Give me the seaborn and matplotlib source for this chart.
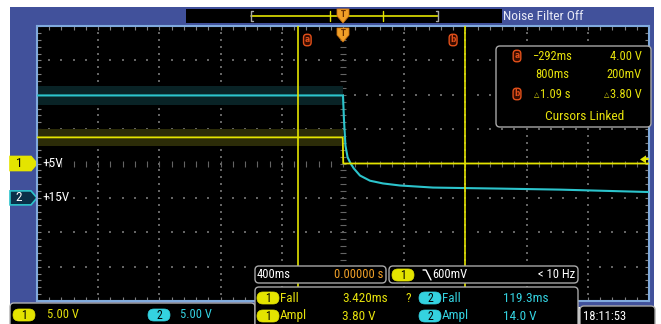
import numpy as np
import matplotlib
matplotlib.use("Agg")
import matplotlib.pyplot as plt
from matplotlib.patches import Rectangle, FancyBboxPatch, Polygon
from matplotlib import font_manager
import seaborn as sns

# ---- acquisition settings ----
time_per_div = 0.4            # s/div
n_hdiv, n_vdiv = 10, 8
ch1_scale, ch2_scale = 5.0, 5.0   # V/div
ch1_pos, ch2_pos = 0.0, -1.0      # ground reference position, div
trigger_level = 0.6               # V, falling edge on ch1

# ---- channel 1: +5V rail ----
ch1_t = [-2.0, -0.0017, 0.0017, 2.0]
ch1_v = [3.80, 3.80, 0.0, 0.0]
ch1_band = 1.25                   # half-width of the pre-fall noise envelope, V

# ---- channel 2: +15V rail ----
ch2_t = [-2.0, 0.0, 0.006, 0.016, 0.03, 0.05, 0.07, 0.111, 0.176, 0.261,
         0.373, 0.588, 0.81, 1.026, 1.418, 2.0]
ch2_v = [14.9, 14.9, 11.5, 7.6, 5.9, 5.0, 4.3, 3.25, 2.5, 2.1,
         1.8, 1.5, 1.42, 1.35, 1.2, 0.85]
ch2_band = 1.35

# ---- cursors ----
cursor_a = -0.292
cursor_span = 1.09

# ---- readouts ----
cursor_rows = [("−292ms", "4.00 V"), ("800ms", "200mV"), ("1.09 s", "3.80 V")]
meas_rows = [("Fall", "3.420ms", "Fall", "119.3ms"),
             ("Ampl", "3.80 V", "Ampl", "14.0 V")]
horiz_label, horiz_pos = "400ms", "0.00000 s"
trig_label, trig_freq = "600mV", "< 10 Hz"
ch_scale_labels = ["5.00 V", "5.00 V"]
ch_ref_labels = ["+5V", "+15V"]
timestamp = "18:11:53"

# ---- colours ----
FRAME = "#41519b"
BORDER = "#80aadd"
YEL = "#e4e400"
CYAN = "#2cc4cc"
TXT_Y = "#e6e20c"
TXT_C = "#34d2e0"
ORANGE = "#f0a028"
RED = "#e2501a"
GRID = "#646464"

sns.set_theme(style="dark")
avail = {f.name for f in font_manager.fontManager.ttflist}
main_font = "DejaVu Sans"
for cand in ("Liberation Sans Narrow", "Roboto Condensed", "Open Sans Condensed"):
    if cand in avail:
        main_font = cand
        break
plt.rcParams["font.family"] = [main_font, "DejaVu Sans"]
plt.rcParams["font.stretch"] = "condensed"

W, H = 661, 324
fig = plt.figure(figsize=(W / 100, H / 100), dpi=100, facecolor="white")

# background layer in pixel coordinates
bg = fig.add_axes([0, 0, 1, 1], zorder=0)
bg.set_xlim(0, W)
bg.set_ylim(H, 0)
bg.axis("off")

# scope graticule
ax = fig.add_axes([37 / W, 1 - 301 / H, 612 / W, 275 / H], zorder=1)
ax.set_facecolor("black")
half_t = n_hdiv / 2 * time_per_div
ax.set_xlim(-half_t, half_t)
ax.set_ylim(-n_vdiv / 2, n_vdiv / 2)

# overlay layer in pixel coordinates
ov = fig.add_axes([0, 0, 1, 1], zorder=3)
ov.set_xlim(0, W)
ov.set_ylim(H, 0)
ov.axis("off")
ov.patch.set_alpha(0)


def to_px(x, y):
    X, Y = ax.transData.transform((x, y))
    return X, H - Y


# ---------- frame ----------
bg.add_patch(Rectangle((10, 7), 644, 300, color=FRAME, lw=0))
bg.add_patch(Rectangle((186, 9), 316, 14, color="black", lw=0))
bg.plot([251, 438], [16, 16], color=YEL, lw=1.2)
bg.plot([253, 251, 251, 253], [11, 11, 21, 21], color="#a8a8a8", lw=1)
bg.plot([436, 438, 438, 436], [11, 11, 21, 21], color="#a8a8a8", lw=1)
bg.plot([330, 330], [11, 21], color=YEL, lw=1)
bg.plot([383, 383], [11, 21], color=YEL, lw=1)
bg.text(503, 16, "Noise Filter Off", color="#e8eaf6", fontsize=9.7, va="center", ha="left")

# ---------- grid ----------
minor_y = np.arange(-n_vdiv * 5 // 2, n_vdiv * 5 // 2 + 1) / 5
minor_x = np.arange(-n_hdiv * 5 // 2, n_hdiv * 5 // 2 + 1) * time_per_div / 5
for k in range(1, n_hdiv):
    xm = -half_t + k * time_per_div
    if abs(xm) < 1e-9:
        continue
    ax.scatter(np.full_like(minor_y, xm), minor_y, s=1.0, marker="s", color=GRID, lw=0, zorder=1)
for k in range(1, n_vdiv):
    ym = -n_vdiv / 2 + k
    if ym == 0:
        continue
    ax.scatter(minor_x, np.full_like(minor_x, ym), s=1.0, marker="s", color=GRID, lw=0, zorder=1)
ax.plot(minor_x, np.zeros_like(minor_x), ls="none", marker="|", ms=4, mew=0.8, color=GRID, zorder=1)
ax.plot(np.zeros_like(minor_y), minor_y, ls="none", marker="_", ms=4, mew=0.8, color=GRID, zorder=1)

ax.set_xticks(np.arange(-half_t, half_t + 1e-9, time_per_div))
ax.set_xticks(minor_x, minor=True)
ax.set_yticks(np.arange(-n_vdiv / 2, n_vdiv / 2 + 1))
ax.set_yticks(minor_y, minor=True)
ax.tick_params(which="both", direction="in", top=True, right=True, bottom=True, left=True,
               labelbottom=False, labelleft=False, length=3, width=0.8, color="#808080")
ax.grid(False)
for s in ax.spines.values():
    s.set_color(BORDER)
    s.set_linewidth(1.5)

# ---------- waveforms ----------
t1 = np.array(ch1_t)
y1 = np.array(ch1_v) / ch1_scale + ch1_pos
t2 = np.array(ch2_t)
y2 = np.array(ch2_v) / ch2_scale + ch2_pos

ax.fill_between(t1[:2], y1[:2] - ch1_band / ch1_scale, y1[:2] + ch1_band / ch1_scale,
                color="#2c2c08", lw=0, zorder=2)
ax.fill_between(t2[:2], y2[:2] - ch2_band / ch2_scale, y2[:2] + ch2_band / ch2_scale,
                color="#092326", lw=0, zorder=2)

sns.lineplot(x=t2, y=y2, ax=ax, color=CYAN, lw=1.5, estimator=None, sort=False, zorder=3)
sns.lineplot(x=t1, y=y1, ax=ax, color=YEL, lw=1.3, estimator=None, sort=False, zorder=4)
ax.set_xlabel("")
ax.set_ylabel("")

# ---------- cursors ----------
cursor_b = cursor_a + cursor_span
ax.axvline(cursor_a, color=YEL, lw=1.2, zorder=5)
ax.axvline(cursor_b, color=YEL, lw=1.2, zorder=5)


def cursor_icon(x, y, letter, size=6):
    ov.text(x, y, letter, color=RED, fontsize=size, ha="center", va="center",
            fontweight="bold", family="DejaVu Sans",
            bbox=dict(boxstyle="round,pad=0.15,rounding_size=0.4", fc="#3a0c00", ec=RED, lw=1))


ax_top = to_px(0, n_vdiv / 2)[1]
xa, _ = to_px(cursor_a, 0)
xb, _ = to_px(cursor_b, 0)
cursor_icon(xa + 9, ax_top + 14, "a")
cursor_icon(xb - 12, ax_top + 14, "b")

# ---------- trigger markers ----------
xt, _ = to_px(0, 0)


def trig_marker(y0):
    pts = [(xt - 6, y0), (xt + 6, y0), (xt + 6, y0 + 7), (xt, y0 + 14), (xt - 6, y0 + 7)]
    ov.add_patch(Polygon(pts, closed=True, fc=ORANGE, ec="#c87010", lw=0.6))
    ov.text(xt, y0 + 5.5, "T", color="#6a3000", fontsize=5.5, ha="center", va="center",
            fontweight="bold", family="DejaVu Sans")


trig_marker(9)
trig_marker(ax_top + 2)

# trigger level arrow on the right edge
xr, yl = to_px(half_t, trigger_level / ch1_scale + ch1_pos)
ov.add_patch(Polygon([(xr - 9, yl), (xr - 3, yl - 4), (xr - 3, yl + 4)], closed=True, fc=YEL, lw=0))
ov.plot([xr - 4, xr - 1], [yl, yl], color=YEL, lw=1.5)


# ---------- channel reference flags ----------
def ref_flag(yc, face, edge, label, lab_color, ref_text):
    pts = [(10, yc - 7), (31, yc - 7), (37, yc), (31, yc + 7), (10, yc + 7)]
    bg.add_patch(Polygon(pts, closed=True, fc=face, ec=edge, lw=1.2))
    bg.text(19, yc, label, color=lab_color, fontsize=9.5, ha="center", va="center")
    ov.text(42, yc, ref_text, color="white", fontsize=9.5, ha="left", va="center")


_, y_ref1 = to_px(0, ch1_pos)
_, y_ref2 = to_px(0, ch2_pos)
ref_flag(y_ref1, YEL, YEL, "1", "black", ch_ref_labels[0])
ref_flag(y_ref2, "#0a3048", CYAN, "2", "white", ch_ref_labels[1])


# ---------- readout boxes ----------
def box(x, y, w, h, layer=ov, r=4):
    layer.add_patch(FancyBboxPatch((x, y), w, h, boxstyle=f"round,pad=0,rounding_size={r}",
                                   fc="black", ec="#a8a8a8", lw=1))


def pill(x, y, label, color):
    ov.add_patch(FancyBboxPatch((x, y - 6), 22, 12, boxstyle="round,pad=0,rounding_size=6",
                                fc=color, ec=color, lw=0.5))
    ov.text(x + 11, y + 0.5, label, color="black", fontsize=8.5, ha="center", va="center")


renderer = fig.canvas.get_renderer()


def delta_text(x_right, y, value):
    t = ov.text(x_right, y, value, color=TXT_Y, fontsize=9, ha="right", va="center")
    ext = t.get_window_extent(renderer)
    ov.text(ext.x0 - 1, y + 1, "△", color=TXT_Y, fontsize=5, ha="right", va="center",
            family="DejaVu Sans", fontstretch="normal")


def delta_text_left(x_left, y, value):
    tri = ov.text(x_left, y + 1, "△", color=TXT_Y, fontsize=5, ha="left", va="center",
                  family="DejaVu Sans", fontstretch="normal")
    ext = tri.get_window_extent(renderer)
    ov.text(ext.x1 + 1, y, value, color=TXT_Y, fontsize=9, ha="left", va="center")


# cursor readout
box(496, 46, 155, 81)
cursor_icon(517, 56, "a")
cursor_icon(517, 94, "b")
ov.text(532, 56, cursor_rows[0][0], color=TXT_Y, fontsize=9, ha="left", va="center")
ov.text(642, 56, cursor_rows[0][1], color=TXT_Y, fontsize=9, ha="right", va="center")
ov.text(535, 75, cursor_rows[1][0], color=TXT_Y, fontsize=9, ha="left", va="center")
ov.text(642, 75, cursor_rows[1][1], color=TXT_Y, fontsize=9, ha="right", va="center")
delta_text_left(534, 94, cursor_rows[2][0])
delta_text(642, 94, cursor_rows[2][1])
ov.text(585, 117, "Cursors Linked", color=TXT_Y, fontsize=9.6, ha="center", va="center")

# horizontal / trigger boxes
box(255, 266, 131, 17)
ov.text(257, 275, horiz_label, color="white", fontsize=9, ha="left", va="center")
ov.text(383, 275, horiz_pos, color=ORANGE, fontsize=9, ha="right", va="center")
box(389, 266, 189, 17)
pill(392, 275, "1", YEL)
ov.plot([423, 426, 431], [270, 270, 280], color="white", lw=1)
ov.text(432, 275, trig_label, color="white", fontsize=9, ha="left", va="center")
ov.text(575, 275, trig_freq, color="white", fontsize=9, ha="right", va="center")

# measurement box
box(255, 287, 323, 45)
for row, y in zip(meas_rows, (298, 316)):
    pill(257, y, "1", YEL)
    ov.text(280, y, row[0], color=TXT_Y, fontsize=9.5, ha="left", va="center")
    ov.text(342, y, row[1], color=TXT_Y, fontsize=9.5, ha="left", va="center")
    pill(419, y, "2", TXT_C)
    ov.text(442, y, row[2], color=TXT_C, fontsize=9.5, ha="left", va="center")
    ov.text(503, y, row[3], color=TXT_C, fontsize=9.5, ha="left", va="center")
ov.text(406, 298, "?", color=TXT_Y, fontsize=9.5, ha="left", va="center")

# channel scale bar
bg.add_patch(FancyBboxPatch((10, 303), 245, 30, boxstyle="round,pad=0,rounding_size=4",
                            fc="black", ec="#b0b0b0", lw=1))
pill(13, 315, "1", YEL)
ov.text(47, 315, ch_scale_labels[0], color=TXT_Y, fontsize=9, ha="left", va="center")
pill(148, 315, "2", TXT_C)
ov.text(180, 315, ch_scale_labels[1], color=TXT_C, fontsize=9, ha="left", va="center")

# timestamp
box(580, 306, 75, 30, layer=bg)
ov.text(583, 317, timestamp, color="white", fontsize=9, ha="left", va="center")

fig.savefig("out.png", dpi=100, facecolor="white")
